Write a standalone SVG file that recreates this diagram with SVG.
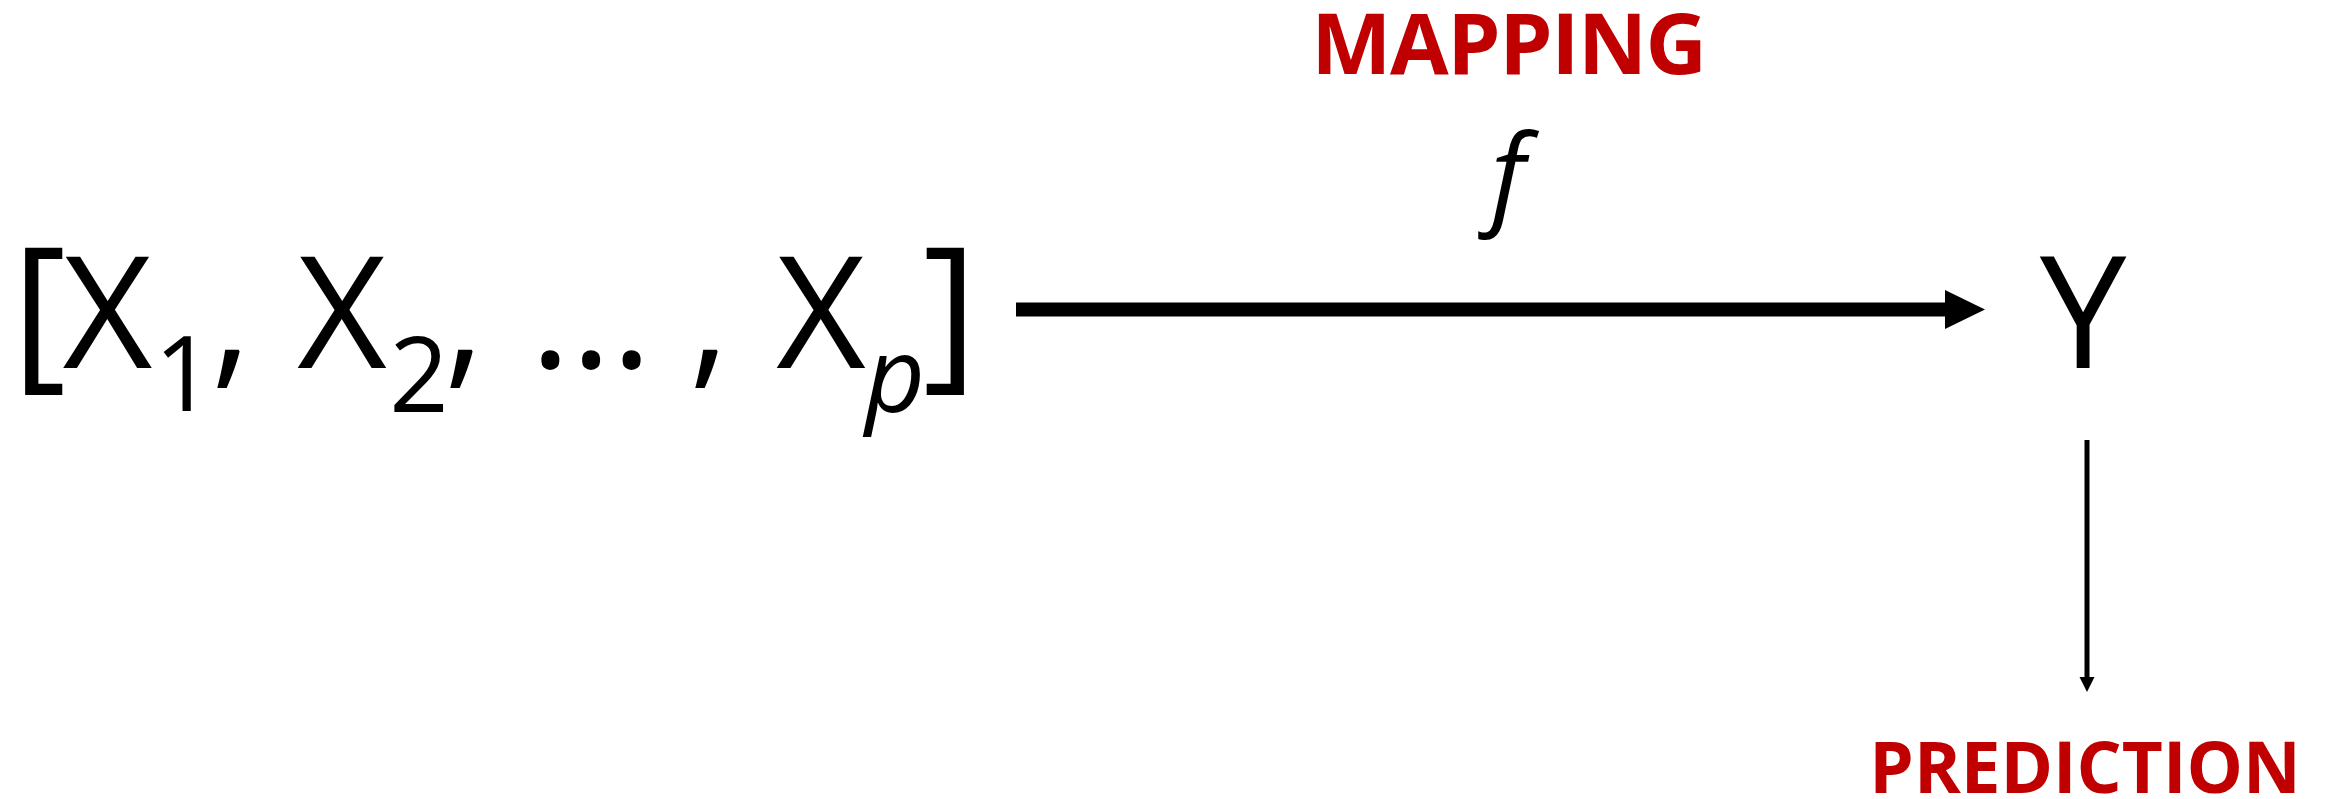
<svg xmlns="http://www.w3.org/2000/svg" width="2331" height="799" viewBox="0 0 2331 799">
<style>
.m{font-family:"Open Sans","Noto Sans","Liberation Sans",sans-serif;fill:#000;text-anchor:middle}
.big{font-size:155px}
.sub{font-size:104px}
.it{font-style:italic}
.lbl{font-family:"Open Sans","Liberation Sans",sans-serif;font-weight:bold;fill:#C00000;text-anchor:middle}
</style>
<rect width="2331" height="799" fill="#fff"/>
<g id="inputs">
<text class="m" x="39" y="368" style="font-size:168px">[</text>
<text class="m big" x="107.5" y="368">X</text>
<text class="m sub" x="184" y="411">1</text>
<text class="m big" x="231" y="368">,</text>
<text class="m big" x="342" y="368">X</text>
<text class="m sub" x="419" y="412">2</text>
<text class="m big" x="464" y="368">,</text>
<text class="m big" x="591" y="368">...</text>
<text class="m big" x="709" y="368">,</text>
<text class="m big" x="821" y="368">X</text>
<text class="m sub it" x="895" y="412">p</text>
<text class="m" x="950" y="368" style="font-size:168px">]</text>
</g>
<g id="mapping">
<text class="lbl" x="1508.5" y="74" font-size="85" letter-spacing="-1.4">MAPPING</text>
<text class="m it" x="1508" y="214" font-size="110">f</text>
</g>
<g id="output">
<text class="m big" x="2083" y="368">Y</text>
</g>
<g id="prediction">
<text class="lbl" x="2085" y="793" font-size="71">PREDICTION</text>
</g>
<g id="connectors">
<line x1="1016" y1="309.5" x2="1946" y2="309.5" stroke="#000" stroke-width="14"/>
<polygon points="1945,290 1985,309.5 1945,329" fill="#000"/>
<line x1="2087" y1="440" x2="2087" y2="678" stroke="#000" stroke-width="5"/>
<polygon points="2079.5,677 2094.5,677 2087,692" fill="#000"/>
</g>
</svg>
